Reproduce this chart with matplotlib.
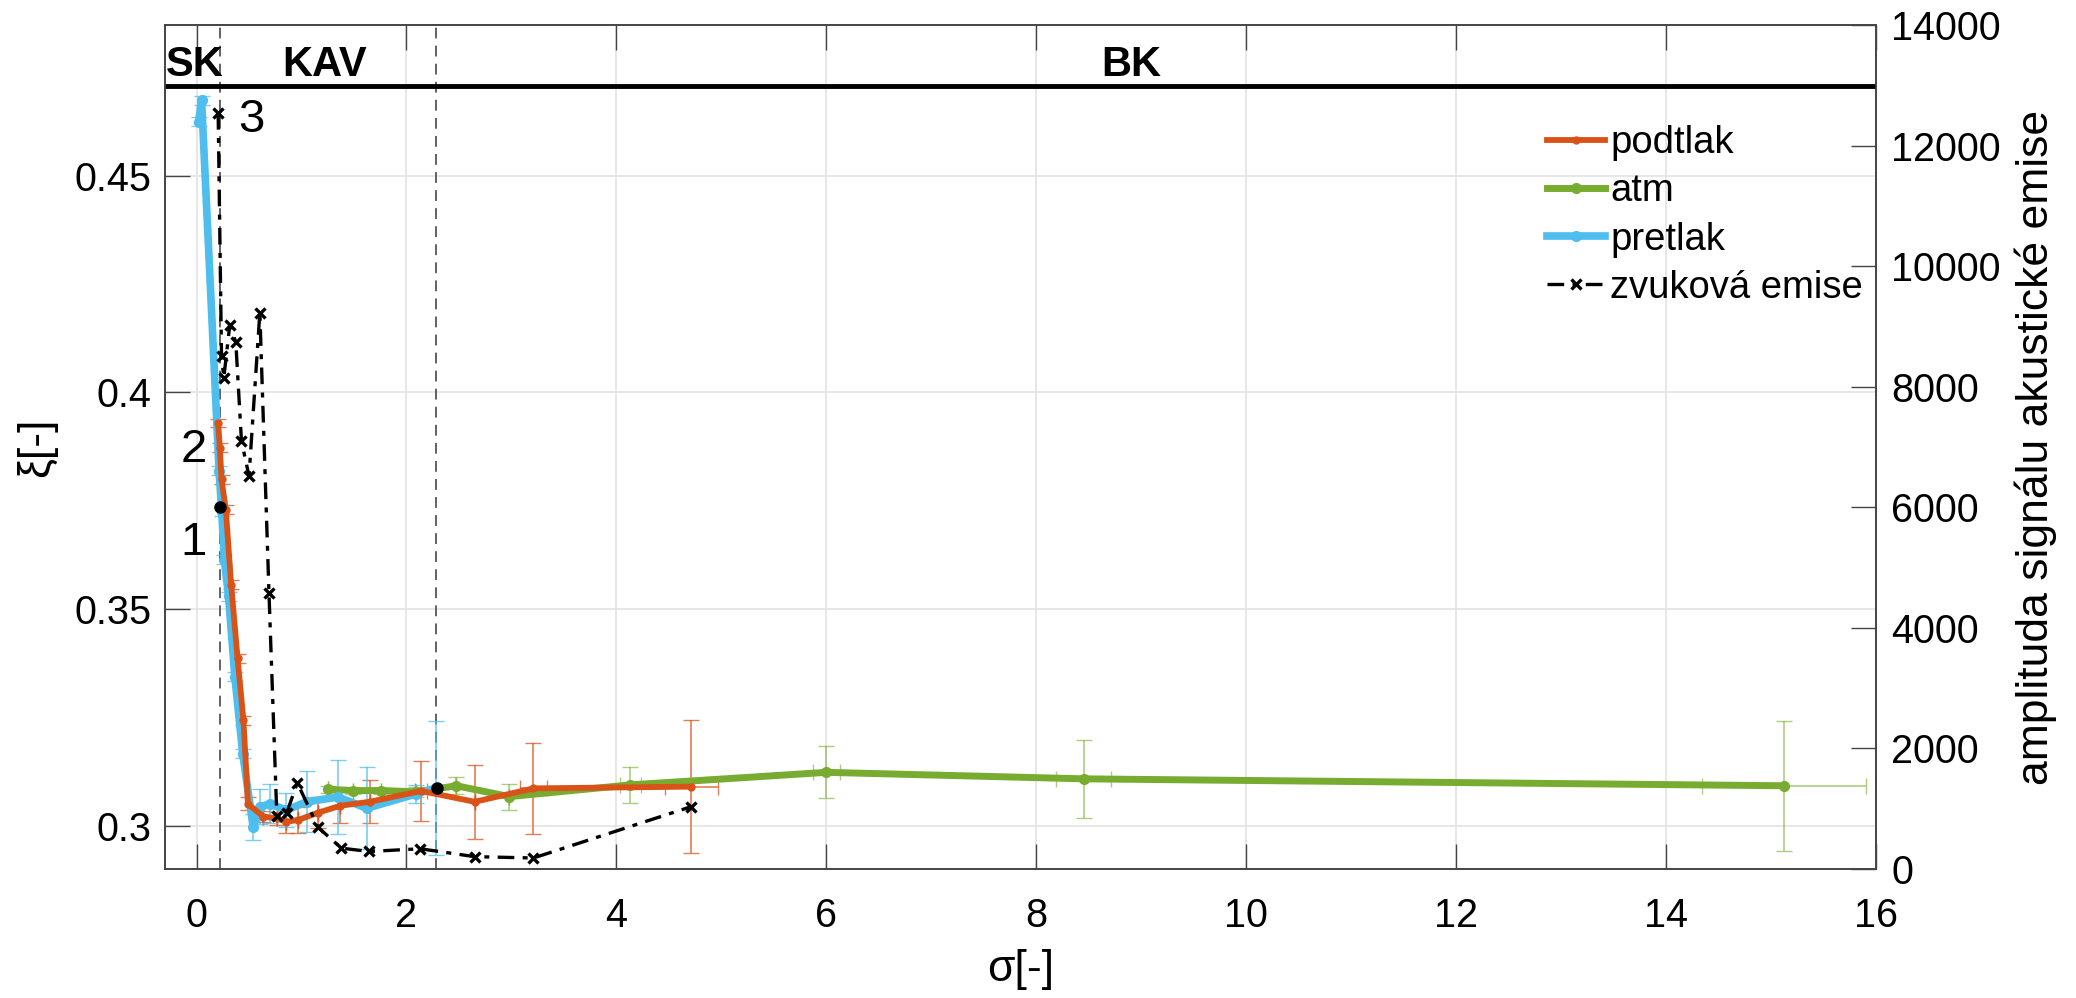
import matplotlib
matplotlib.use('Agg')
import matplotlib.pyplot as plt
import numpy as np

plt.rcParams['font.family'] = ['Liberation Sans', 'DejaVu Sans']

# --- data ---
sigma_podtlak = [0.206, 0.222, 0.238, 0.279, 0.33, 0.391, 0.447, 0.49, 0.635, 0.762, 0.857,
                 0.968, 1.16, 1.37, 1.65, 2.14, 2.65, 3.21, 4.715]
xi_podtlak = [0.3929, 0.3872, 0.3799, 0.3729, 0.3556, 0.3386, 0.3243, 0.3050, 0.3021, 0.3017, 0.3009,
              0.3013, 0.3030, 0.3046, 0.3055, 0.3080, 0.3055, 0.3086, 0.3090]
yerr_podtlak = [0.001, 0.001, 0.001, 0.001, 0.001, 0.001, 0.001, 0.0015, 0.0012, 0.0015, 0.0027,
                0.003, 0.0035, 0.004, 0.005, 0.007, 0.0085, 0.0105, 0.0153]
xerr_podtlak = [0, 0, 0, 0, 0, 0, 0, 0, 0, 0, 0,
                0, 0, 0, 0, 0.06, 0, 0.13, 0.25]

sigma_atm = [1.254, 1.49, 1.76, 2.095, 2.476, 2.98, 4.13, 6.0, 8.45, 15.12]
xi_atm = [0.3084, 0.3081, 0.3081, 0.3078, 0.3092, 0.3067, 0.3094, 0.3123, 0.3108, 0.3092]
yerr_atm = [0.0008, 0.0007, 0.0007, 0.0012, 0.002, 0.003, 0.0042, 0.006, 0.009, 0.015]
xerr_atm = [0, 0, 0, 0, 0, 0, 0.1, 0.13, 0.26, 0.78]

sigma_pretlak = [0.02, 0.048, 0.215, 0.24, 0.265, 0.305, 0.365, 0.44, 0.54, 0.603, 0.70,
                 0.857, 1.05, 1.35, 1.62, 2.09, 2.28]
xi_pretlak = [0.4625, 0.4674, 0.3819, 0.3725, 0.3614, 0.3529, 0.3344, 0.3166, 0.2996, 0.3044, 0.3050,
              0.3036, 0.3055, 0.3066, 0.3040, 0.3073, 0.3087]
yerr_pretlak = [0.001, 0.001, 0.001, 0.001, 0.001, 0.001, 0.001, 0.001, 0.003, 0.004, 0.0045,
                0.004, 0.007, 0.0085, 0.0095, 0.002, 0.0155]

sigma_zvuk = [0.206, 0.238, 0.26, 0.317, 0.374, 0.428, 0.50, 0.603, 0.69, 0.765,
              0.86, 0.96, 1.158, 1.38, 1.645, 2.13, 2.65, 3.21, 4.715]
ampl_zvuk = [12540, 8505, 8150, 9030, 8740, 7100, 6517, 9225, 4580, 880,
             935, 1430, 690, 345, 290, 335, 204, 182, 1035]

# body 1 a hranice oblasti
sigma_body = [0.225, 2.29]
xi_body = [0.3735, 0.3088]
sigma_hranice = [0.225, 2.28]
xi_hranice = 0.4707

c_pod = '#D95319'
c_atm = '#77AC30'
c_pre = '#4DBEEE'

fig = plt.figure(figsize=(20.76, 9.98), dpi=100)
ax = fig.add_axes([0.0795, 0.1293, 0.8242, 0.8457])
ax2 = ax.twinx()

# chybove usecky
ax.errorbar(sigma_podtlak, xi_podtlak, yerr=yerr_podtlak, xerr=xerr_podtlak, fmt='none',
            ecolor=c_pod, elinewidth=1.2, capsize=6, alpha=0.75, zorder=2)
ax.errorbar(sigma_atm, xi_atm, yerr=yerr_atm, xerr=xerr_atm, fmt='none',
            ecolor=c_atm, elinewidth=1.2, capsize=6, alpha=0.6, zorder=2)
ax.errorbar(sigma_pretlak, xi_pretlak, yerr=yerr_pretlak, fmt='none',
            ecolor=c_pre, elinewidth=1.2, capsize=6, alpha=0.75, zorder=2)

l1, = ax.plot(sigma_podtlak, xi_podtlak, '-o', color=c_pod, lw=4.2, ms=5, label='podtlak', zorder=4)
l2, = ax.plot(sigma_atm, xi_atm, '-o', color=c_atm, lw=5, ms=7, label='atm', zorder=3)
l3, = ax.plot(sigma_pretlak, xi_pretlak, '-o', color=c_pre, lw=5.5, ms=7, label='pretlak', zorder=3)
ax.plot(sigma_body, xi_body, 'o', color='black', ms=8, zorder=6)

for s in sigma_hranice:
    ax.axvline(s, color='#555555', lw=1.3, ls=(0, (6, 4)), zorder=1)
ax.axhline(xi_hranice, color='black', lw=3.5, zorder=5)

l4, = ax2.plot(sigma_zvuk, ampl_zvuk, color='black', lw=2.4, ls=(0, (5, 2.5, 1.5, 2.5)),
               marker='x', ms=7, mew=2.4, label='zvuková emise')

ax.text(-0.02, 0.4755, 'SK', fontsize=30, fontweight='bold', ha='center', va='center')
ax.text(1.215, 0.4755, 'KAV', fontsize=30, fontweight='bold', ha='center', va='center')
ax.text(8.9, 0.4755, 'BK', fontsize=30, fontweight='bold', ha='center', va='center')
ax.text(-0.03, 0.3652, '1', fontsize=34, ha='center', va='center')
ax.text(-0.03, 0.3868, '2', fontsize=34, ha='center', va='center')
ax.text(0.524, 0.4628, '3', fontsize=34, ha='center', va='center')

ax.set_xlim(-0.3, 16)
ax.set_ylim(0.29, 0.4848)
ax2.set_ylim(0, 14000)
ax.set_xticks(np.arange(0, 17, 2))
ax.set_yticks([0.3, 0.35, 0.4, 0.45])
ax.set_yticklabels(['0.3', '0.35', '0.4', '0.45'])
ax2.set_yticks(np.arange(0, 14001, 2000))

ax.grid(True, color='#e3e3e3', lw=1.2)
ax.set_axisbelow(True)
ax.tick_params(axis='x', direction='in', length=18, width=1, top=True, labelsize=28.5, pad=20, color='#444444')
ax.tick_params(axis='y', direction='in', length=18, width=1, labelsize=28.5, pad=10, color='#444444')
ax2.tick_params(axis='y', direction='in', length=18, width=1, labelsize=28.5, pad=11, color='#444444')
for a in (ax, ax2):
    for sp in a.spines.values():
        sp.set_color('#444444')
        sp.set_linewidth(1.2)

ax.set_xlabel('σ[-]', fontsize=32, labelpad=10)
ax.set_ylabel('ξ[-]', fontsize=32, labelpad=12)
ax2.set_ylabel('amplituda signálu akustické emise', fontsize=32, labelpad=10)

leg = ax2.legend(handles=[l1, l2, l3, l4], loc='upper left', bbox_to_anchor=(0.738, 0.89),
                 bbox_transform=fig.transFigure, frameon=False, fontsize=27.5,
                 handlelength=1.5, handletextpad=0.15, labelspacing=0.32, borderaxespad=0)

fig.savefig('out.png', dpi=100)
